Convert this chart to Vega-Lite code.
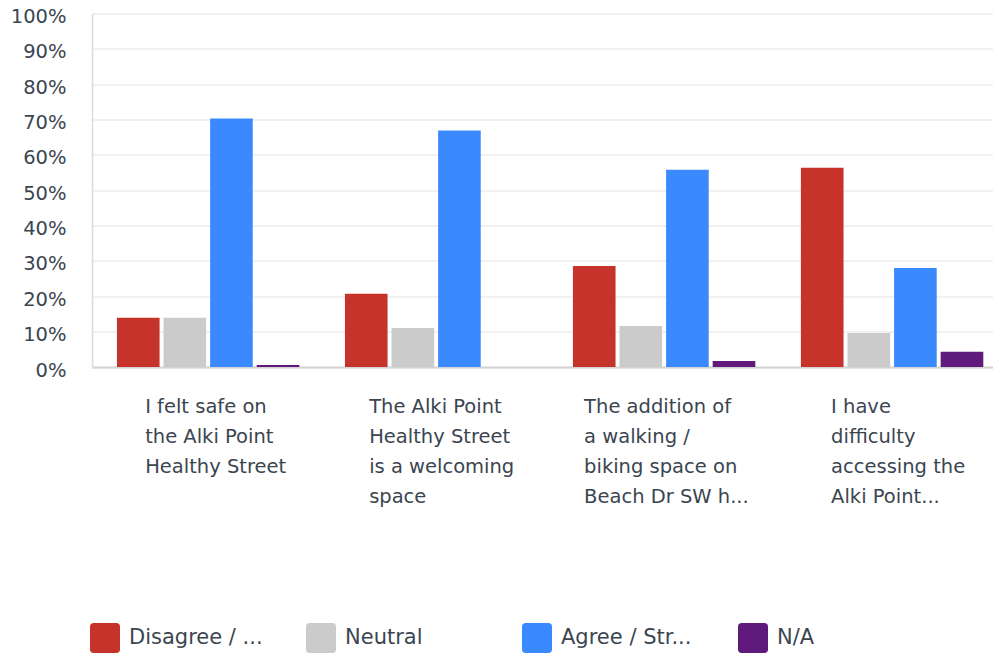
{
  "$schema": "https://vega.github.io/schema/vega-lite/v6.json",
  "autosize": {"type": "none"},
  "padding": {"left": 92, "top": 13.5, "right": 0, "bottom": 288},
  "width": 901,
  "height": 353.5,
  "background": "white",
  "data": {
    "values": [
      {"question": "I felt safe on|the Alki Point|Healthy Street", "response": "Disagree / Strongly disagree", "pct": 0.139},
      {"question": "I felt safe on|the Alki Point|Healthy Street", "response": "Neutral", "pct": 0.139},
      {"question": "I felt safe on|the Alki Point|Healthy Street", "response": "Agree / Strongly agree", "pct": 0.703},
      {"question": "I felt safe on|the Alki Point|Healthy Street", "response": "N/A", "pct": 0.006},
      {"question": "The Alki Point|Healthy Street|is a welcoming|space", "response": "Disagree / Strongly disagree", "pct": 0.207},
      {"question": "The Alki Point|Healthy Street|is a welcoming|space", "response": "Neutral", "pct": 0.11},
      {"question": "The Alki Point|Healthy Street|is a welcoming|space", "response": "Agree / Strongly agree", "pct": 0.669},
      {"question": "The Alki Point|Healthy Street|is a welcoming|space", "response": "N/A", "pct": 0.0},
      {"question": "The addition of|a walking /|biking space on|Beach Dr SW h...", "response": "Disagree / Strongly disagree", "pct": 0.286},
      {"question": "The addition of|a walking /|biking space on|Beach Dr SW h...", "response": "Neutral", "pct": 0.116},
      {"question": "The addition of|a walking /|biking space on|Beach Dr SW h...", "response": "Agree / Strongly agree", "pct": 0.558},
      {"question": "The addition of|a walking /|biking space on|Beach Dr SW h...", "response": "N/A", "pct": 0.017},
      {"question": "I have|difficulty|accessing the|Alki Point...", "response": "Disagree / Strongly disagree", "pct": 0.564},
      {"question": "I have|difficulty|accessing the|Alki Point...", "response": "Neutral", "pct": 0.096},
      {"question": "I have|difficulty|accessing the|Alki Point...", "response": "Agree / Strongly agree", "pct": 0.28},
      {"question": "I have|difficulty|accessing the|Alki Point...", "response": "N/A", "pct": 0.043}
    ]
  },
  "mark": {"type": "bar"},
  "encoding": {
    "x": {
      "field": "question",
      "type": "nominal",
      "sort": null,
      "scale": {"paddingInner": 0.2, "paddingOuter": 0.076, "align": 0.72},
      "axis": {
        "title": null,
        "labelAngle": 0,
        "labelExpr": "split(datum.label, '|')",
        "labelAlign": "left",
        "labelBaseline": "top",
        "labelOffset": {
          "condition": [
            {"test": "indexof(datum.value, 'I felt') == 0", "value": -63},
            {"test": "indexof(datum.value, 'The Alki') == 0", "value": -67},
            {"test": "indexof(datum.value, 'The addition') == 0", "value": -80}
          ],
          "value": -61
        },
        "labelPadding": 30,
        "labelLineHeight": 30,
        "labelFont": "DejaVu Sans",
        "labelFontSize": 19.5,
        "labelColor": "#3b4550",
        "labelLimit": 300,
        "ticks": false,
        "tickSize": 0,
        "domainColor": "#d3d3d3",
        "domainWidth": 2,
        "grid": false
      }
    },
    "xOffset": {
      "field": "response",
      "type": "nominal",
      "sort": ["Disagree / Strongly disagree", "Neutral", "Agree / Strongly agree", "N/A"],
      "scale": {"paddingInner": 0.085}
    },
    "y": {
      "field": "pct",
      "type": "quantitative",
      "scale": {"domain": [0, 1], "nice": false},
      "axis": {
        "title": null,
        "format": ".0%",
        "values": [0, 0.1, 0.2, 0.3, 0.4, 0.5, 0.6, 0.7, 0.8, 0.9, 1],
        "labelFont": "DejaVu Sans",
        "labelFontSize": 19.5,
        "labelColor": "#3b4550",
        "labelPadding": 26,
        "labelOffset": 3,
        "ticks": false,
        "tickSize": 0,
        "domainColor": "#dcdcdc",
        "domainWidth": 1.5,
        "gridColor": "#ececec",
        "gridWidth": 1.5
      }
    },
    "color": {
      "field": "response",
      "type": "nominal",
      "sort": ["Disagree / Strongly disagree", "Neutral", "Agree / Strongly agree", "N/A"],
      "scale": {
        "domain": ["Disagree / Strongly disagree", "Neutral", "Agree / Strongly agree", "N/A"],
        "range": ["#c5332b", "#cbcbcb", "#3a89ff", "#5f1a7c"]
      },
      "legend": {
        "title": null,
        "orient": "none",
        "legendX": -2,
        "legendY": 609.5,
        "direction": "horizontal",
        "columns": 4,
        "gridAlign": "all",
        "columnPadding": 43,
        "symbolType": "M -1 -0.75 Q -1 -1 -0.75 -1 L 0.75 -1 Q 1 -1 1 -0.75 L 1 0.75 Q 1 1 0.75 1 L -0.75 1 Q -1 1 -1 0.75 Z",
        "symbolSize": 900,
        "symbolStrokeWidth": 0,
        "symbolOpacity": 1,
        "labelOffset": 9,
        "labelFont": "DejaVu Sans",
        "labelFontSize": 21,
        "labelColor": "#3b4550",
        "labelLimit": 300,
        "labelExpr": "datum.label == 'Disagree / Strongly disagree' ? 'Disagree / ...' : datum.label == 'Agree / Strongly agree' ? 'Agree / Str...' : datum.label"
      }
    }
  },
  "config": {
    "view": {"stroke": null}
  }
}
